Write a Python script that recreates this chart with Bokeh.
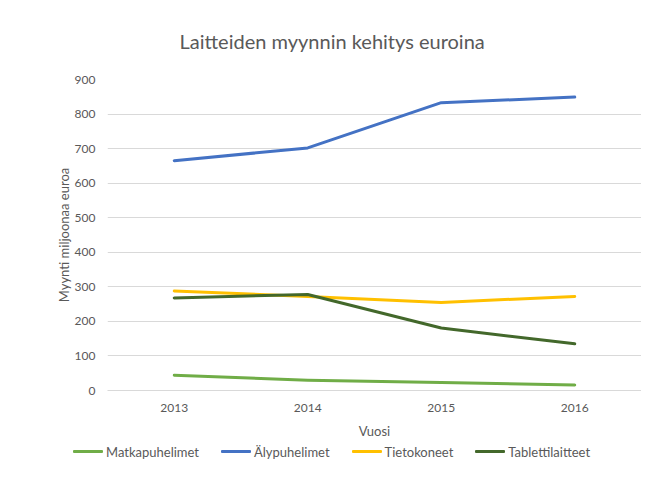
from bokeh.plotting import figure
from bokeh.layouts import column
from bokeh.models import FactorRange, Range1d, FixedTicker, Div
from bokeh.embed import file_html
from bokeh.resources import INLINE

years = ["2013", "2014", "2015", "2016"]
series_names = ["Matkapuhelimet", "Älypuhelimet", "Tietokoneet", "Tablettilaitteet"]
matkapuhelimet = [44, 30, 23, 16]
alypuhelimet = [665, 702, 833, 849]
tietokoneet = [288, 272, 255, 272]
tablettilaitteet = [268, 278, 181, 135]
y_ticks = [0, 100, 200, 300, 400, 500, 600, 700, 800, 900]
colors = ["#70AD47", "#4472C4", "#FFC000", "#43682B"]

FONT = "Lato"
GRAY = "#595959"

p = figure(
    frame_width=534, frame_height=311,
    x_range=FactorRange(*years, range_padding=0),
    y_range=Range1d(0, 900),
    output_backend="svg", toolbar_location=None,
    min_border_left=107, min_border_right=0, min_border_top=78, min_border_bottom=0,
)
p.outline_line_color = None

p.title.text = "Laitteiden myynnin kehitys euroina"
p.title.text_font = FONT
p.title.text_font_size = "20px"
p.title.text_font_style = "normal"
p.title.text_color = GRAY
p.title.align = "left"
p.title.offset = 72
p.title.standoff = 53

# axes
p.yaxis.ticker = FixedTicker(ticks=y_ticks)
p.yaxis.axis_line_color = None
p.yaxis.major_tick_line_color = None
p.yaxis.major_tick_out = 0
p.yaxis.major_tick_in = 0
p.yaxis.minor_tick_line_color = None
p.yaxis.major_label_standoff = 12
p.yaxis.major_label_text_font = FONT
p.yaxis.major_label_text_font_size = "12px"
p.yaxis.major_label_text_color = GRAY
p.yaxis.axis_label = "Myynti miljoonaa euroa"
p.yaxis.axis_label_text_font = FONT
p.yaxis.axis_label_text_font_size = "13px"
p.yaxis.axis_label_text_font_style = "normal"
p.yaxis.axis_label_text_color = GRAY
p.yaxis.axis_label_standoff = 0

p.xaxis.axis_line_color = "#D9D9D9"
p.xaxis.major_tick_line_color = None
p.xaxis.major_tick_out = 0
p.xaxis.major_tick_in = 0
p.xaxis.minor_tick_line_color = None
p.xaxis.major_label_standoff = 13
p.xaxis.major_label_text_font = FONT
p.xaxis.major_label_text_font_size = "12px"
p.xaxis.major_label_text_color = GRAY
p.xaxis.axis_label = "Vuosi"
p.xaxis.axis_label_text_font = FONT
p.xaxis.axis_label_text_font_size = "13px"
p.xaxis.axis_label_text_font_style = "normal"
p.xaxis.axis_label_text_color = GRAY
p.xaxis.axis_label_standoff = 8

p.xgrid.grid_line_color = None
p.ygrid.grid_line_color = "#D9D9D9"
p.ygrid.grid_line_width = 1

for vals, c in zip([matkapuhelimet, alypuhelimet, tietokoneet, tablettilaitteet], colors):
    p.line(years, vals, line_color=c, line_width=3, line_join="round", line_cap="round")

# legend strip (HTML) below the chart
entries = "".join(
    f'<span style="display:inline-flex;align-items:center;margin-right:22px;">'
    f'<span style="display:inline-block;width:30px;height:3px;background:{c};border-radius:1px;margin-right:3px;"></span>'
    f'<span>{name}</span></span>'
    for name, c in zip(series_names, colors)
)
legend_html = (
    f'<div style="display:flex;align-items:center;height:14px;line-height:14px;margin-top:-4px;'
    f'padding-left:73px;font-family:{FONT};font-size:13px;color:{GRAY};white-space:nowrap;">'
    f'{entries}</div>'
)
leg = Div(text=legend_html, width=641, height=40, margin=(0, 0, 0, 0))

layout = column(p, leg, spacing=0)
open("out.html", "w").write(file_html(layout, INLINE))
